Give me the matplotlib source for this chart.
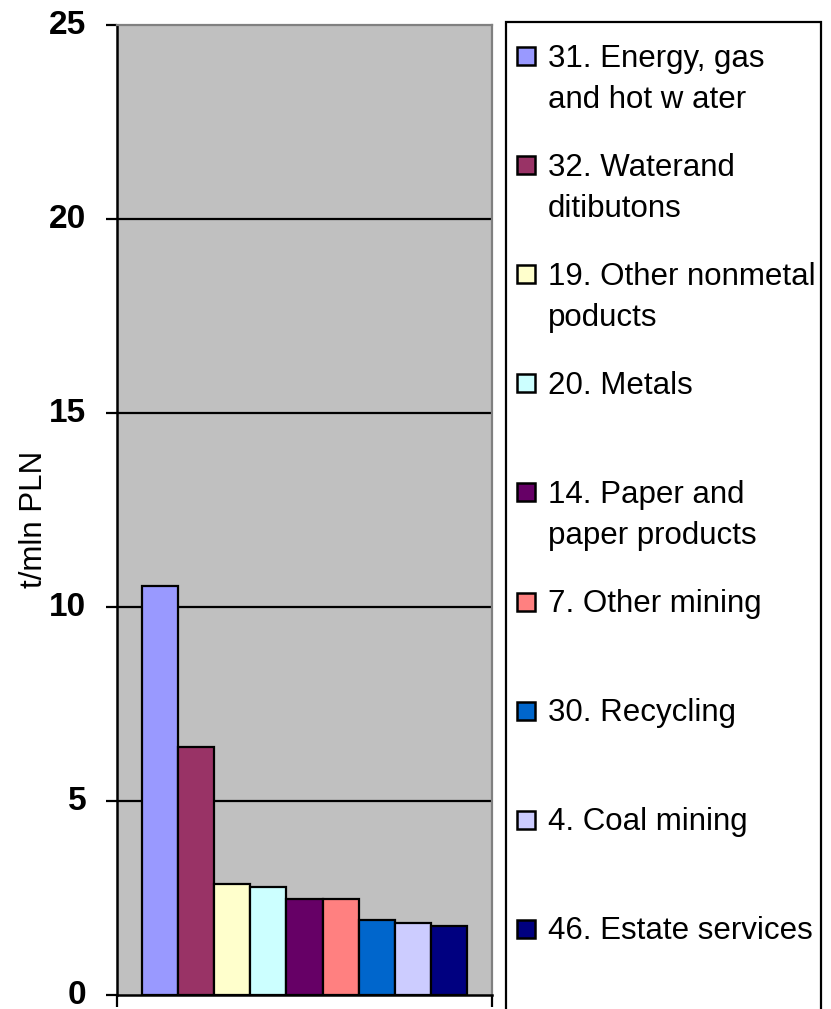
import matplotlib
matplotlib.use("Agg")
import matplotlib.pyplot as plt
from matplotlib.patches import Rectangle
from matplotlib.transforms import ScaledTranslation

plt.rcParams['font.family'] = ['Liberation Sans', 'DejaVu Sans']

# intensity by sector, t/mln PLN
sectors = [
    "31. Energy, gas\nand hot w ater",
    "32. Waterand\nditibutons",
    "19. Other nonmetal\npoducts",
    "20. Metals",
    "14. Paper and\npaper products",
    "7. Other mining",
    "30. Recycling",
    "4. Coal mining",
    "46. Estate services",
]
values = [10.55, 6.4, 2.85, 2.78, 2.47, 2.47, 1.93, 1.86, 1.79]
colors = ["#9999FF", "#993366", "#FFFFCC", "#CCFFFF", "#660066",
          "#FF8080", "#0066CC", "#CCCCFF", "#000080"]
yticks = [0, 5, 10, 15, 20, 25]

W, H = 831, 1009
fig = plt.figure(figsize=(W / 100, H / 100), dpi=100)

# plot area in pixel terms
left, right, top, bottom = 117, 492, 25, 995
ax = fig.add_axes([left / W, 1 - bottom / H, (right - left) / W, (bottom - top) / H])
ax.set_facecolor("#C0C0C0")

xs = list(range(len(values)))
ax.bar(xs, values, width=1.0, color=colors, edgecolor="black", linewidth=1.6, zorder=2)

for y in yticks[1:-1]:
    ax.axhline(y, color="black", linewidth=1.6, zorder=1)

gap = 0.69
xmin, xmax = -0.5 - gap, len(values) - 0.5 + gap
ax.set_xlim(xmin, xmax)
ax.set_ylim(0, 25)

ax.set_yticks(yticks)
ax.set_yticklabels([str(t) for t in yticks], fontsize=24, fontweight="bold")
ax.tick_params(axis="y", direction="out", length=8, width=1.6, pad=14)
# labels sit a little above their ticks
lift = ScaledTranslation(0, 3 / 100, fig.dpi_scale_trans)
for lab in ax.get_yticklabels():
    lab.set_transform(lab.get_transform() + lift)
ax.set_xticks([xmin, xmax])
ax.set_xticklabels(["", ""])
ax.tick_params(axis="x", direction="out", length=8.5, width=1.6)

for side in ("left", "bottom"):
    ax.spines[side].set_color("black")
    ax.spines[side].set_linewidth(1.8)
for side in ("top", "right"):
    ax.spines[side].set_color("#808080")
    ax.spines[side].set_linewidth(1.6)

ax.set_ylabel("t/mln PLN", fontsize=22.5)
ax.yaxis.set_label_coords(-0.182, 0.49)

# legend box drawn by hand so the markers sit on the first text line
box_l, box_r, box_t = 506, 821, 22
fig.patches.append(Rectangle((box_l / W, -0.01), (box_r - box_l) / W, (H - box_t) / H + 0.01,
                             transform=fig.transFigure, fill=False,
                             edgecolor="black", linewidth=1.6))

first_y, step, line_h, msize = 56, 109.1, 41, 18
mark_x, text_x = 517, 548
for i, (label, c) in enumerate(zip(sectors, colors)):
    cy = first_y + i * step
    fig.patches.append(Rectangle((mark_x / W, 1 - (cy + msize / 2) / H), msize / W, msize / H,
                                 transform=fig.transFigure, facecolor=c,
                                 edgecolor="black", linewidth=1.8))
    for j, line in enumerate(label.split("\n")):
        base = cy + 10.5 + j * line_h
        fig.text(text_x / W, 1 - base / H, line, fontsize=22.5, va="baseline", ha="left")

fig.savefig("out.png", dpi=100)
